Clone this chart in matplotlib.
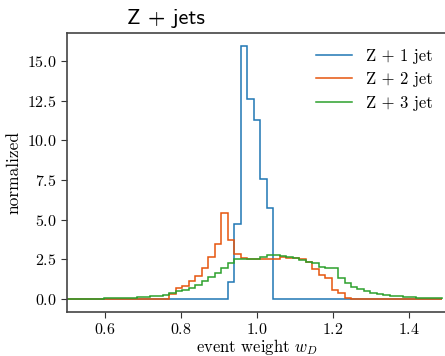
import numpy as np
import matplotlib
matplotlib.use("Agg")
from matplotlib import pyplot as plt

plt.rcParams['font.family'] = 'serif'
plt.rcParams['font.serif'] = ['cmr10']
plt.rcParams['mathtext.fontset'] = 'cm'
plt.rcParams['axes.formatter.use_mathtext'] = True

# histogram bins (58 bins over the event weight range)
bin_edges = np.linspace(0.496, 1.4856, 59)

labels = ['Z + 1 jet', 'Z + 2 jet', 'Z + 3 jet']
colors = ['#1f77b4', '#e6550d', '#2ca02c']

# normalized counts per bin
z1jet = [0.0] * 25 + [1.09, 4.73, 15.95, 12.6, 11.3, 7.56, 5.75] + [0.0] * 26

z2jet = [0.005, 0.005, 0.005, 0.005, 0.006, 0.006, 0.007, 0.008, 0.009, 0.01,
         0.011, 0.012, 0.014, 0.016, 0.02, 0.025,
         0.34, 0.67, 0.84, 1.12, 1.46, 1.98, 2.62, 3.5, 5.4,
         3.72, 2.82, 2.6, 2.55, 2.55, 2.52, 2.5, 2.5, 2.64, 2.6, 2.58, 2.55,
         2.33, 1.87, 1.52, 1.3, 0.57, 0.36, 0.04,
         0.03, 0.03, 0.025, 0.025, 0.02, 0.02, 0.02, 0.015, 0.015, 0.012, 0.01, 0.01,
         0.008, 0.006]

z3jet = [0.01, 0.01, 0.02, 0.02, 0.03, 0.03, 0.04, 0.05, 0.06, 0.07,
         0.09, 0.11, 0.14, 0.18, 0.22, 0.28,
         0.38, 0.48, 0.6, 0.72, 0.9, 1.15, 1.4, 1.65, 1.95,
         2.27, 2.55, 2.5, 2.5, 2.52, 2.67, 2.75, 2.79, 2.71, 2.63, 2.58, 2.46,
         2.35, 2.25, 2.04, 1.97, 1.95, 1.3, 1.03, 0.74, 0.61, 0.48, 0.38, 0.31,
         0.25, 0.21, 0.17, 0.15, 0.1, 0.08, 0.06, 0.05, 0.04]

fig = plt.figure(figsize=(4.45, 3.56), dpi=100)
ax = fig.add_axes([0.15, 0.1244, 0.8554, 0.782])

for vals, lab, col in zip([z1jet, z2jet, z3jet], labels, colors):
    ax.stairs(vals, bin_edges, color=col, linewidth=1.1, label=lab)

ax.set_xlim(0.5, 1.5)
ax.set_ylim(-0.8, 16.75)
ax.set_xticks([0.6, 0.8, 1.0, 1.2, 1.4])
ax.set_yticks([0.0, 2.5, 5.0, 7.5, 10.0, 12.5, 15.0])
ax.tick_params(labelsize=11.5, length=4, color='#333333')
for sp in ax.spines.values():
    sp.set_color('#444444')
    sp.set_linewidth(1.2)

ax.set_xlabel(r'event weight $w_D$', fontsize=12, labelpad=0)
ax.set_ylabel('normalized', fontsize=12.5, labelpad=4)
ax.set_title('Z + jets', fontfamily='cmss10', fontsize=16, x=0.26, pad=7)
ax.legend(loc='upper right', frameon=False, fontsize=12, handlelength=2.2)

plt.savefig('out.png', dpi=100)
